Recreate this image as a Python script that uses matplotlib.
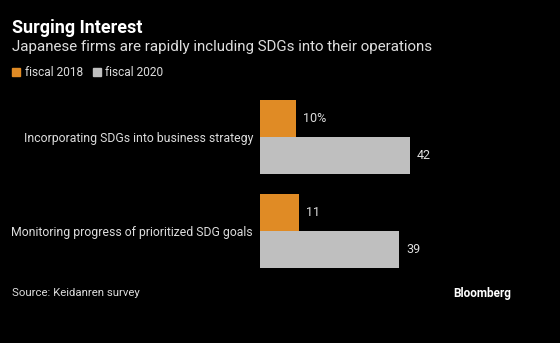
import matplotlib.pyplot as plt
from matplotlib.patches import Rectangle

categories = ['Incorporating SDGs into business strategy',
              'Monitoring progress of prioritized SDG goals']
fiscal_2018 = [10, 11]
fiscal_2020 = [42, 39]
value_labels_2018 = ['10%', '11']
value_labels_2020 = ['42', '39']

ORANGE = '#E08B25'
GRAY = '#BFBFBF'
TEXT = '#DDDDDD'
BG = '#000000'

plt.rcParams['font.family'] = ['Roboto', 'DejaVu Sans']

W, H = 560, 343
fig = plt.figure(figsize=(W / 100, H / 100), dpi=100, facecolor=BG)

def px(x, y):
    # pixel position (from top-left) to figure fraction
    return x / W, 1 - y / H

# plot area: x from 260px, 3.571 px per unit
left, right, top, bottom = 260, 540, 90, 280
ax = fig.add_axes([left / W, 1 - bottom / H, (right - left) / W, (bottom - top) / H])
ax.set_facecolor(BG)
ax.set_xlim(0, (right - left) / 3.571)
ax.set_ylim((bottom - 137) / 94, (top - 137) / 94)

h = 0.394
ypos = list(range(len(categories)))
y18 = [y - h / 2 for y in ypos]
y20 = [y + h / 2 for y in ypos]
ax.barh(y18, fiscal_2018, height=h, color=ORANGE)
ax.barh(y20, fiscal_2020, height=h, color=GRAY)

for y, v, s in zip(y18, fiscal_2018, value_labels_2018):
    ax.annotate(s, (v, y), xytext=(5, 0), textcoords='offset points',
                va='center', ha='left', color=TEXT, fontsize=9)
for y, v, s in zip(y20, fiscal_2020, value_labels_2020):
    ax.annotate(s, (v, y), xytext=(5, 0), textcoords='offset points',
                va='center', ha='left', color=TEXT, fontsize=9)

ax.set_yticks(ypos)
ax.set_yticklabels(categories, color=TEXT, fontsize=8.8)
ax.tick_params(axis='y', length=0, pad=5)
ax.set_xticks([])
for s in ax.spines.values():
    s.set_visible(False)

fig.text(*px(12, 28), 'Surging Interest', color='white', fontsize=13,
         fontweight='bold', va='center', ha='left')
fig.text(*px(12, 47), 'Japanese firms are rapidly including SDGs into their operations',
         color=TEXT, fontsize=10.9, va='center', ha='left')

# legend
fig.patches.append(Rectangle(px(12, 76), 8 / W, 8 / H, transform=fig.transFigure,
                             color=ORANGE))
fig.text(*px(25, 72), 'fiscal 2018', color=TEXT, fontsize=8.6, va='center', ha='left')
fig.patches.append(Rectangle(px(93, 76), 8 / W, 8 / H, transform=fig.transFigure,
                             color=GRAY))
fig.text(*px(105, 72), 'fiscal 2020', color=TEXT, fontsize=8.6, va='center', ha='left')

fig.text(*px(12, 293), 'Source: Keidanren survey', color=TEXT, fontsize=8.2,
         va='center', ha='left')
fig.text(*px(511, 293), 'Bloomberg', color='white', fontsize=8.5, fontweight='bold',
         va='center', ha='right')

fig.savefig('out.png', dpi=100, facecolor=BG)
